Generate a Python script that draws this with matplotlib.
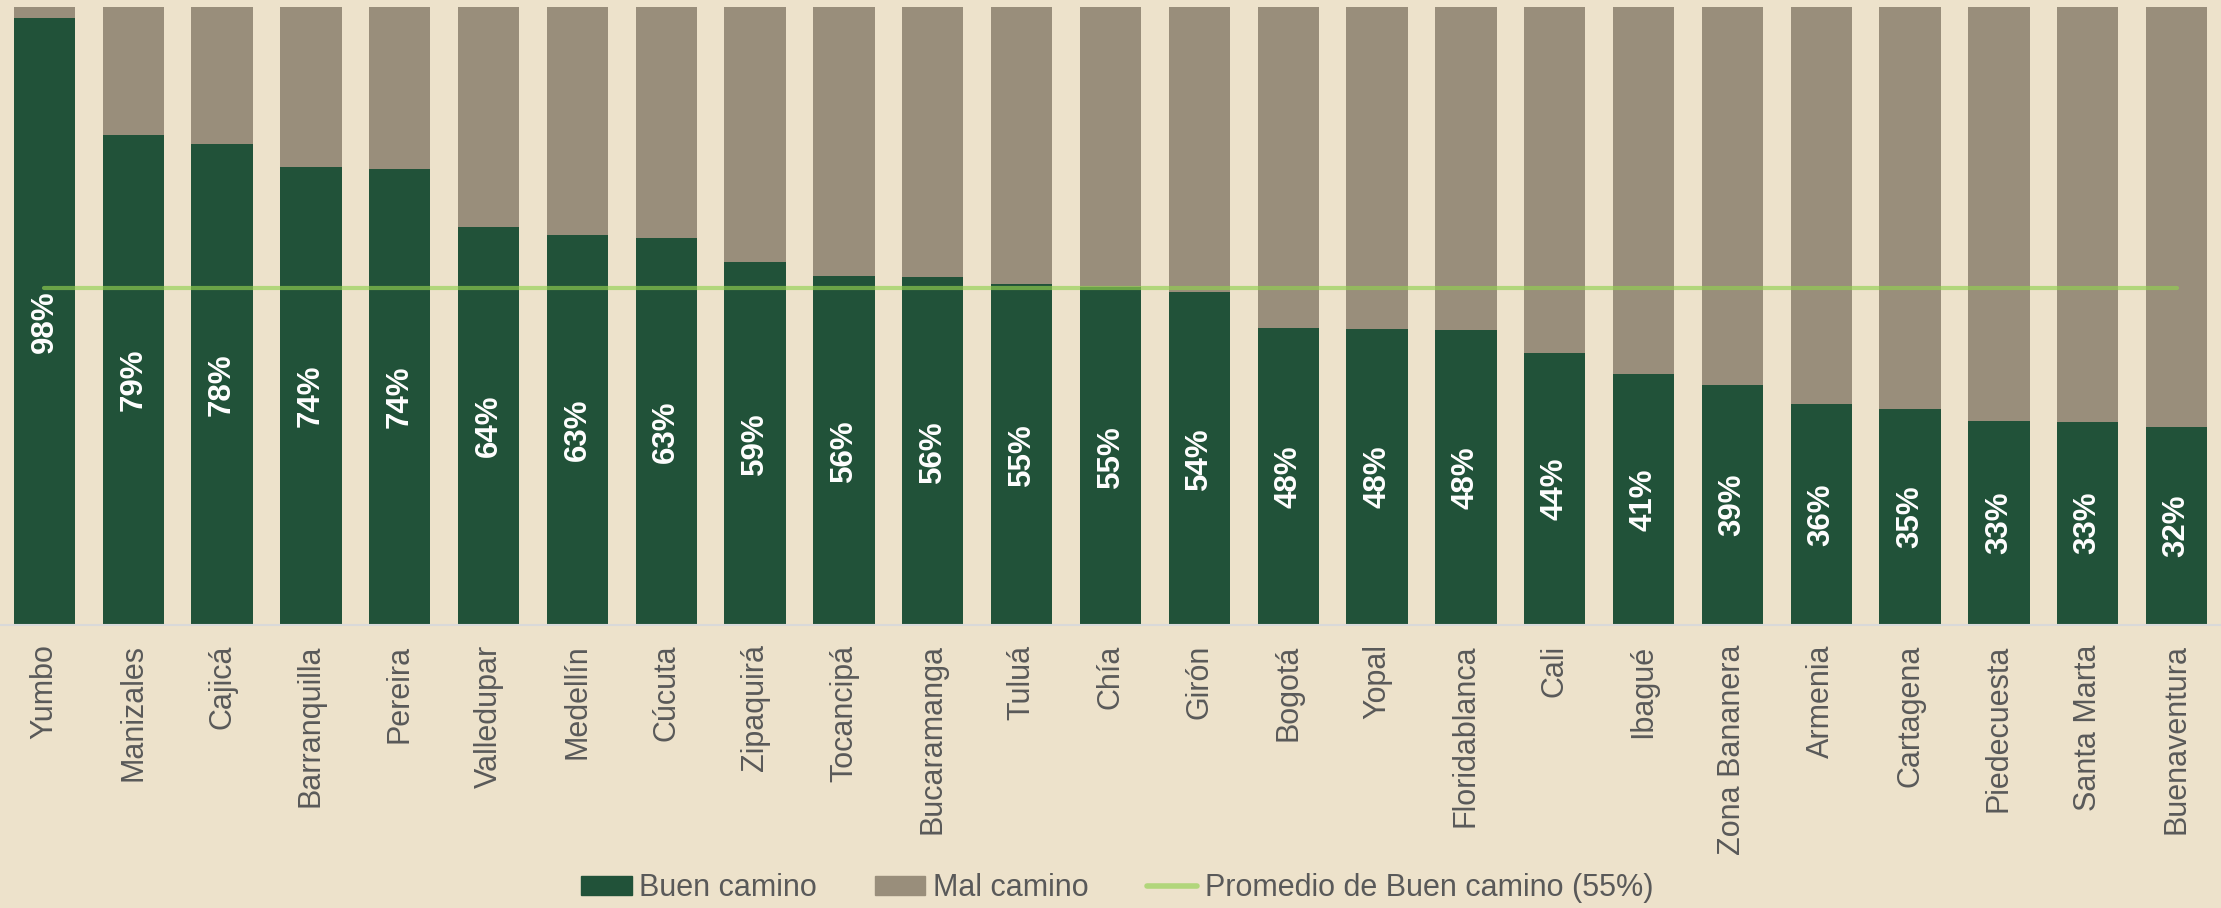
import matplotlib
matplotlib.use("Agg")
import matplotlib.pyplot as plt
import numpy as np
from matplotlib.patches import Patch
from matplotlib.lines import Line2D

ciudades = ["Yumbo", "Manizales", "Cajicá", "Barranquilla", "Pereira", "Valledupar",
            "Medellín", "Cúcuta", "Zipaquirá", "Tocancipá", "Bucaramanga", "Tuluá",
            "Chía", "Girón", "Bogotá", "Yopal", "Floridablanca", "Cali", "Ibagué",
            "Zona Bananera", "Armenia", "Cartagena", "Piedecuesta", "Santa Marta",
            "Buenaventura"]
buen_camino = [0.982, 0.792, 0.778, 0.741, 0.737, 0.644, 0.630, 0.626, 0.587, 0.564,
               0.562, 0.552, 0.546, 0.539, 0.481, 0.479, 0.477, 0.440, 0.406, 0.388,
               0.358, 0.349, 0.330, 0.329, 0.320]

buen = np.array(buen_camino)
mal = 1 - buen
promedio = buen.mean()

bg = "#EDE2CB"
verde = "#215239"
gris = "#998E7B"
linea = "#92D050"

plt.rcParams["font.family"] = ["Liberation Sans", "DejaVu Sans"]

fig = plt.figure(figsize=(22.21, 9.08), dpi=100, facecolor=bg)
ax = fig.add_axes([0, 0.3117, 1, 0.6811])
ax.set_facecolor(bg)

x = np.arange(len(ciudades))
ax.bar(x, buen, width=0.69, color=verde, zorder=2)
ax.bar(x, mal, bottom=buen, width=0.69, color=gris, zorder=2)
ax.plot([x[0], x[-1]], [promedio, promedio], color=linea, lw=3, alpha=0.65,
        solid_capstyle="round", zorder=3)

# etiquetas de valor dentro de la parte verde
for xi, v in zip(x, buen):
    ax.text(xi, v / 2, f"{v:.0%}", rotation=90, ha="center", va="center",
            color="white", fontsize=22.5, fontweight="bold", zorder=4)

ax.set_xlim(-0.5, len(ciudades) - 0.5)
ax.set_ylim(0, 1)
ax.set_yticks([])
ax.set_xticks(x)
ax.set_xticklabels(ciudades, rotation=90, fontsize=22, color="#595959")
ax.tick_params(axis="x", length=0, pad=14)
for s in ["top", "left", "right"]:
    ax.spines[s].set_visible(False)
ax.spines["bottom"].set_color("#D9D9D9")
ax.spines["bottom"].set_linewidth(1.5)

handles = [Patch(color=verde, label="Buen camino"),
           Patch(color=gris, label="Mal camino"),
           Line2D([0], [0], color=linea, lw=4, alpha=0.65, solid_capstyle="round",
                  label=f"Promedio de Buen camino ({promedio:.0%})")]
fig.legend(handles=handles, loc="center", ncol=3, frameon=False,
           bbox_to_anchor=(0.503, 20 / 908), handlelength=1.65, handleheight=0.6,
           handletextpad=0.25, columnspacing=1.9, fontsize=22,
           labelcolor="#595959")

fig.savefig("out.png", dpi=100, facecolor=bg)
